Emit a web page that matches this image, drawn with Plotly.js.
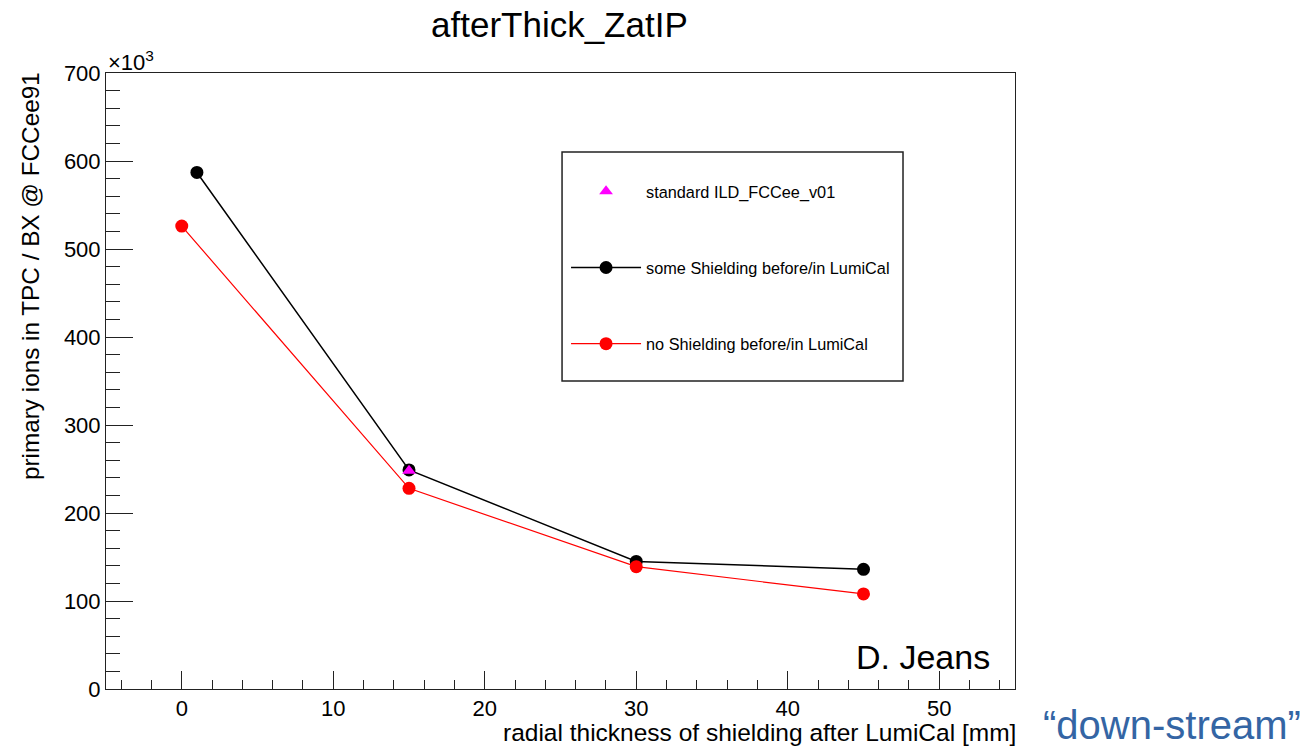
<!DOCTYPE html>
<html>
<head>
<meta charset="utf-8">
<script src="https://cdn.plot.ly/plotly-3.0.1.min.js"></script>
<style>
  html, body { margin: 0; padding: 0; background: #ffffff; }
  #plot { width: 1315px; height: 747px; }
</style>
</head>
<body>
<div id="plot"></div>
<script>
// Radial shielding thickness after LumiCal [mm]
const standardX = [15];
const standardY = [248];          // primary ions / BX (x10^3), standard ILD_FCCee_v01

const someShieldX = [1, 15, 30, 45];
const someShieldY = [587, 249, 145, 136];   // some shielding before/in LumiCal

const noShieldX = [0, 15, 30, 45];
const noShieldY = [526, 228, 139, 108];     // no shielding before/in LumiCal

const xTickVals = [0, 10, 20, 30, 40, 50];
const yTickVals = [0, 100, 200, 300, 400, 500, 600, 700];

const FONT = 'Liberation Sans, Arial, Helvetica, sans-serif';

const traces = [
  {
    x: someShieldX, y: someShieldY,
    name: 'some Shielding before/in LumiCal',
    mode: 'lines+markers',
    line: { color: '#000000', width: 1.5 },
    marker: { color: '#000000', size: 13, symbol: 'circle' },
    legendgroup: 'b', legendrank: 2
  },
  {
    x: noShieldX, y: noShieldY,
    name: 'no Shielding before/in LumiCal',
    mode: 'lines+markers',
    line: { color: '#ff0000', width: 1.2 },
    marker: { color: '#ff0000', size: 13, symbol: 'circle' },
    legendgroup: 'c', legendrank: 3
  },
  {
    x: standardX, y: standardY,
    name: 'standard ILD_FCCee_v01',
    mode: 'markers',
    marker: { color: '#ff00ff', size: 12, symbol: 'triangle-up' },
    legendgroup: 'a', legendrank: 1
  }
];

const layout = {
  width: 1315, height: 747,
  margin: { l: 106, r: 300, t: 73, b: 58 },
  paper_bgcolor: '#ffffff',
  plot_bgcolor: '#ffffff',
  font: { family: FONT, color: '#000000', size: 22 },
  showlegend: true,
  legend: {
    x: 0.5061, xanchor: 'left',
    y: 0.8357, yanchor: 'top',
    bgcolor: 'rgba(0,0,0,0)',
    borderwidth: 0,
    traceorder: 'grouped',
    tracegroupgap: 52,
    font: { family: FONT, size: 16.3, color: '#000000' },
    itemwidth: 70
  },
  xaxis: {
    range: [-5, 55],
    tickvals: xTickVals,
    ticks: 'inside', ticklen: 18, tickwidth: 1, tickcolor: '#222222',
    minor: { dtick: 2, tick0: 0, ticks: 'inside', ticklen: 9, tickwidth: 1, tickcolor: '#222222' },
    showline: true, mirror: true, linecolor: '#222222', linewidth: 1,
    showgrid: false, zeroline: false,
    tickfont: { family: FONT, size: 22, color: '#000000' }
  },
  yaxis: {
    range: [0, 700],
    tickvals: yTickVals,
    ticks: 'inside', ticklen: 27, tickwidth: 1, tickcolor: '#222222',
    minor: { dtick: 20, tick0: 0, ticks: 'inside', ticklen: 14, tickwidth: 1, tickcolor: '#222222' },
    showline: true, mirror: true, linecolor: '#222222', linewidth: 1,
    showgrid: false, zeroline: false,
    tickfont: { family: FONT, size: 22, color: '#000000' }
  },
  shapes: [
    {
      type: 'rect', xref: 'paper', yref: 'paper',
      x0: 0.5017, x1: 0.8768, y0: 0.5, y1: 0.8718,
      line: { color: '#222222', width: 1.5 },
      fillcolor: 'rgba(0,0,0,0)'
    }
  ],
  annotations: [
    {
      text: 'afterThick_ZatIP', xref: 'paper', yref: 'paper',
      x: 0.4994, y: 1.0795, xanchor: 'center', yanchor: 'middle',
      showarrow: false, font: { family: FONT, size: 35, color: '#000000' }
    },
    {
      text: '×10<sup>3</sup>', xref: 'paper', yref: 'paper',
      x: 0.0, y: 1.0, xanchor: 'left', yanchor: 'bottom', yshift: -4,
      showarrow: false, font: { family: FONT, size: 22, color: '#000000' }
    },
    {
      text: 'primary ions in TPC / BX @ FCCee91', xref: 'paper', yref: 'paper',
      x: -0.0836, y: 1.0, xanchor: 'center', yanchor: 'top', yshift: 3,
      textangle: -90,
      showarrow: false, font: { family: FONT, size: 24.3, color: '#000000' }
    },
    {
      text: 'radial thickness of shielding after LumiCal [mm]', xref: 'paper', yref: 'paper',
      x: 1.0, y: -0.0714, xanchor: 'right', yanchor: 'middle', xshift: 3,
      showarrow: false, font: { family: FONT, size: 24.5, color: '#000000' }
    },
    {
      text: 'D. Jeans', xref: 'paper', yref: 'paper',
      x: 0.9747, y: 0.052, xanchor: 'right', yanchor: 'middle',
      showarrow: false, font: { family: FONT, size: 34, color: '#000000' }
    },
    {
      text: '“down-stream”', xref: 'paper', yref: 'paper',
      x: 1.0286, y: -0.0633, xanchor: 'left', yanchor: 'middle', yshift: 3,
      showarrow: false, font: { family: FONT, size: 40, color: '#3465a4' }
    }
  ]
};

Plotly.newPlot('plot', traces, layout, { displayModeBar: false, staticPlot: true });
</script>
</body>
</html>
